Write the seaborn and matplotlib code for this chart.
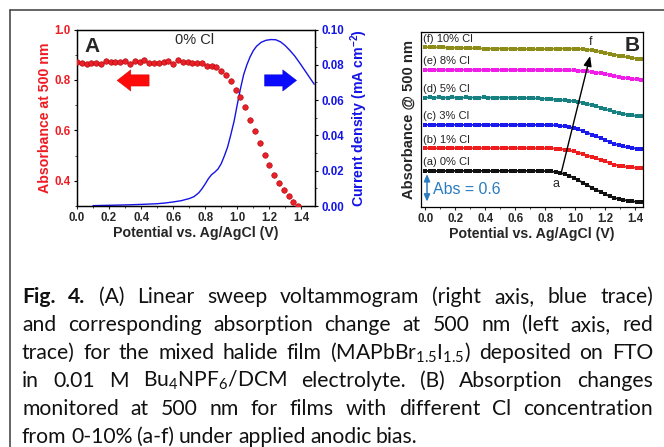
import numpy as np
import matplotlib
matplotlib.use("Agg")
import matplotlib.pyplot as plt
import seaborn as sns
from matplotlib.lines import Line2D
from matplotlib.ticker import MultipleLocator

W, H = 664, 447

# ---------------- data ----------------
# panel A: absorbance at 500 nm (red dots), step 0.03 V
abs_500 = [0.871, 0.868, 0.865, 0.868, 0.867, 0.864, 0.877, 0.871, 0.871, 0.873,
           0.874, 0.862, 0.874, 0.871, 0.878, 0.868, 0.867, 0.867, 0.870, 0.874,
           0.865, 0.880, 0.871, 0.870, 0.868, 0.868, 0.867, 0.857, 0.855, 0.851,
           0.837, 0.819, 0.797, 0.762, 0.733, 0.692, 0.643, 0.596, 0.548, 0.503,
           0.461, 0.424, 0.390, 0.363, 0.339, 0.316, 0.300]
pot_abs = np.round(np.arange(len(abs_500)) * 0.03, 2)

# panel A: linear sweep voltammogram (blue line)
pot_lsv = [0.10, 0.20, 0.30, 0.40, 0.50, 0.55, 0.60, 0.65, 0.70, 0.73, 0.76, 0.78,
           0.80, 0.82, 0.84, 0.86, 0.88, 0.90, 0.92, 0.94, 0.96, 0.98, 1.00, 1.02,
           1.04, 1.06, 1.08, 1.10, 1.12, 1.15, 1.18, 1.21, 1.24, 1.27, 1.30, 1.33,
           1.36, 1.39, 1.42, 1.45, 1.48]
current = [0.0002, 0.0004, 0.0006, 0.0009, 0.0013, 0.0017, 0.0023, 0.0030, 0.0042,
           0.0053, 0.0075, 0.0098, 0.0125, 0.0155, 0.0178, 0.0192, 0.0210, 0.0240,
           0.0285, 0.0335, 0.0405, 0.0480, 0.0575, 0.0665, 0.0745, 0.0800, 0.0845,
           0.0880, 0.0905, 0.0928, 0.0939, 0.0943, 0.0942, 0.0930, 0.0908, 0.0880,
           0.0848, 0.0810, 0.0770, 0.0730, 0.0690]

# panel B: offset absorbance traces, step 0.03 V
trace_a = [0.812, 0.808, 0.810, 0.806, 0.811, 0.809, 0.813, 0.808, 0.810, 0.812,
           0.807, 0.811, 0.809, 0.813, 0.810, 0.808, 0.812, 0.809, 0.811, 0.810,
           0.813, 0.809, 0.811, 0.810, 0.812, 0.810, 0.809,
           0.805, 0.798, 0.785, 0.762, 0.735, 0.700, 0.655, 0.600, 0.545, 0.490,
           0.435, 0.385, 0.335, 0.285, 0.240, 0.205, 0.178, 0.158, 0.142, 0.128,
           0.115, 0.105, 0.098]
trace_b = [1.318, 1.322, 1.320, 1.316, 1.321, 1.324, 1.319, 1.322, 1.326, 1.321,
           1.318, 1.323, 1.320, 1.317, 1.322, 1.319, 1.321, 1.316, 1.320, 1.323,
           1.318, 1.321, 1.319, 1.322, 1.320, 1.317, 1.319, 1.318, 1.316,
           1.312, 1.302, 1.290, 1.272, 1.250, 1.220, 1.188, 1.155, 1.122, 1.090,
           1.057, 1.022, 0.985, 0.953, 0.928, 0.910, 0.898, 0.888, 0.880, 0.872,
           0.868]
trace_c = [1.846, 1.843, 1.847, 1.844, 1.842, 1.846, 1.845, 1.848, 1.843, 1.845,
           1.847, 1.842, 1.846, 1.844, 1.843, 1.847, 1.845, 1.842, 1.846, 1.844,
           1.847, 1.845, 1.843, 1.846, 1.844, 1.845, 1.843, 1.842,
           1.840, 1.832, 1.822, 1.810, 1.795, 1.772, 1.742, 1.705, 1.668, 1.628,
           1.588, 1.546, 1.502, 1.458, 1.420, 1.386, 1.360, 1.340, 1.325, 1.311,
           1.302, 1.296]
trace_d = [2.458, 2.461, 2.457, 2.460, 2.456, 2.459, 2.462, 2.458, 2.455, 2.460,
           2.457, 2.459, 2.456, 2.461, 2.458, 2.455, 2.459, 2.457, 2.454, 2.456,
           2.452, 2.448, 2.450, 2.446, 2.440, 2.437,
           2.434, 2.430, 2.422, 2.413, 2.404, 2.395, 2.386, 2.376, 2.362, 2.342,
           2.316, 2.288, 2.260, 2.230, 2.198, 2.168, 2.140, 2.112, 2.090, 2.072,
           2.056, 2.042, 2.034, 2.030]
trace_e = [3.080, 3.077, 3.079, 3.082, 3.078, 3.076, 3.080, 3.079, 3.083, 3.078,
           3.077, 3.081, 3.079, 3.076, 3.080, 3.082, 3.078, 3.079, 3.077, 3.081,
           3.080, 3.078, 3.076, 3.079, 3.081, 3.078, 3.077, 3.079, 3.076, 3.078,
           3.075, 3.073, 3.070,
           3.066, 3.060, 3.052, 3.044, 3.034, 3.020, 3.004, 2.988, 2.968, 2.946,
           2.924, 2.905, 2.889, 2.875, 2.864, 2.856, 2.852]
trace_f = [3.590, 3.588, 3.586, 3.585, 3.584, 3.580, 3.578, 3.575, 3.572, 3.570,
           3.566, 3.563, 3.560, 3.558, 3.556, 3.555, 3.557, 3.558, 3.556, 3.555,
           3.552, 3.550, 3.548, 3.546, 3.545, 3.544, 3.545, 3.548, 3.552, 3.556,
           3.558, 3.557, 3.556, 3.554, 3.550, 3.546,
           3.535, 3.522, 3.503, 3.482, 3.462, 3.440, 3.420, 3.400, 3.380, 3.362,
           3.346, 3.333, 3.324, 3.318]
pot_b = np.round(np.arange(len(trace_a)) * 0.03, 2)

traces = [trace_a, trace_b, trace_c, trace_d, trace_e, trace_f]
trace_labels = ["(a) 0% Cl", "(b) 1% Cl", "(c) 3% Cl", "(d) 5% Cl", "(e) 8% Cl", "(f) 10% Cl"]
trace_colors = ["#111111", "#ee1c1c", "#1a1aee", "#178080", "#f01ce8", "#8c8c18"]

caption = [
    [("Fig.", "bold"), ("4.", "bold"), "(A)", "Linear", "sweep", "voltammogram", "(right",
     "axis,", "blue", "trace)"],
    "and corresponding absorption change at 500 nm (left axis, red".split(),
    ["trace)", "for", "the", "mixed", "halide", "film",
     r"$\mathregular{(MAPbBr_{1.5}I_{1.5})}$", "deposited", "on", "FTO"],
    ["in", "0.01", "M", r"$\mathregular{Bu_4NPF_6/DCM}$", "electrolyte.", "(B)",
     "Absorption", "changes"],
    "monitored at 500 nm for films with different Cl concentration".split(),
    "from 0-10% (a-f) under applied anodic bias.".split(),
]

# ---------------- style ----------------
sns.set_theme(style="ticks")
plt.rcParams["font.family"] = ["Liberation Sans", "DejaVu Sans"]
plt.rcParams["xtick.direction"] = "out"
plt.rcParams["ytick.direction"] = "out"

fig = plt.figure(figsize=(W / 100, H / 100), dpi=100)
fig.patch.set_facecolor("white")

RED = "#ee1c24"
BLUE = "#1414e6"
TICK_FS = 8.3
LAB_FS = 10.2

# ---------------- panel A ----------------
axA = fig.add_axes([77 / W, 1 - 206 / H, (315 - 77) / W, (206 - 29.5) / H])
ax2 = axA.twinx()

sns.lineplot(x=pot_lsv, y=current, color=BLUE, lw=1.0, ax=ax2)
sns.scatterplot(x=pot_abs, y=abs_500, color="#e8202a", edgecolor="#b00000",
                linewidth=0.4, s=16, ax=axA, zorder=3)
axA.set_zorder(ax2.get_zorder() + 1)
axA.patch.set_visible(False)

axA.set_xlim(0, 1.485)
axA.set_ylim(0.3, 1.0)
ax2.set_ylim(0, 0.1)
axA.xaxis.set_major_locator(MultipleLocator(0.2))
axA.xaxis.set_minor_locator(MultipleLocator(0.1))
axA.yaxis.set_major_locator(MultipleLocator(0.2))
axA.yaxis.set_minor_locator(MultipleLocator(0.1))
ax2.yaxis.set_major_locator(MultipleLocator(0.02))
ax2.yaxis.set_minor_locator(MultipleLocator(0.01))

for ax in (axA, ax2):
    for sp in ax.spines.values():
        sp.set_visible(True)
        sp.set_color("black")
        sp.set_linewidth(0.9)
    ax.tick_params(which="major", length=2.5, width=0.8, pad=2)
    ax.tick_params(which="minor", length=1.5, width=0.6)

axA.tick_params(axis="y", colors="black", labelcolor=RED, labelsize=TICK_FS)
axA.tick_params(axis="x", labelsize=TICK_FS)
ax2.tick_params(axis="y", colors="black", labelcolor=BLUE, labelsize=TICK_FS)
axA.set_yticks([0.4, 0.6, 0.8, 1.0])
axA.set_yticklabels(["0.4", "0.6", "0.8", "1.0"])
for lab in axA.get_xticklabels() + axA.get_yticklabels():
    lab.set_fontweight("bold")
ax2.yaxis.set_major_formatter(plt.FuncFormatter(lambda v, p: f"{v:.2f}"))
for lab in ax2.get_yticklabels():
    lab.set_fontweight("bold")

axA.set_xlabel("Potential vs. Ag/AgCl (V)", fontsize=LAB_FS, fontweight="bold", labelpad=1)
axA.set_ylabel("Absorbance at 500 nm", fontsize=LAB_FS, fontweight="bold", color=RED,
               labelpad=2)
ax2.set_ylabel(r"Current density (mA cm$\mathregular{^{-2}}$)", fontsize=LAB_FS,
               fontweight="bold", color=BLUE, labelpad=3)

axA.text(0.03, 0.96, "A", transform=axA.transAxes, fontsize=15, fontweight="bold",
         va="top", ha="left")
axA.text(0.735, 0.958, "0% Cl", fontsize=10.5, ha="center", va="center")

axA.annotate("", xy=(0.25, 0.798), xytext=(0.45, 0.798),
             arrowprops=dict(arrowstyle="simple,head_length=0.55,head_width=0.85,tail_width=0.45",
                             color="#ff0a0a", ec="#d00000", lw=0.3, mutation_scale=18,
                             shrinkA=0, shrinkB=0))
axA.annotate("", xy=(1.37, 0.798), xytext=(1.17, 0.798),
             arrowprops=dict(arrowstyle="simple,head_length=0.55,head_width=0.85,tail_width=0.45",
                             color="#0a0aff", ec="#0000c0", lw=0.3, mutation_scale=18,
                             shrinkA=0, shrinkB=0))

# ---------------- panel B ----------------
axB = fig.add_axes([421 / W, 1 - 207 / H, (643 - 421) / W, (207 - 32) / H])
for y, lab, col in zip(traces, trace_labels, trace_colors):
    sns.lineplot(x=pot_b, y=y, color=col, lw=1.3, marker="s", markersize=2.6,
                 markeredgewidth=0, ax=axB)
    axB.text(-0.012, y[0] + 0.19, lab, fontsize=8.0, color="#222222",
             ha="left", va="center")

axB.set_xlim(-0.028, 1.45)
axB.set_ylim(0, 3.93)
axB.xaxis.set_major_locator(MultipleLocator(0.2))
axB.xaxis.set_minor_locator(MultipleLocator(0.1))
axB.set_yticks([])
for sp in axB.spines.values():
    sp.set_visible(True)
    sp.set_color("black")
    sp.set_linewidth(0.9)
axB.tick_params(which="major", length=2.5, width=0.8, pad=2, labelsize=TICK_FS)
axB.tick_params(which="minor", length=1.5, width=0.6)
for lab in axB.get_xticklabels():
    lab.set_fontweight("bold")
axB.set_xlabel("Potential vs. Ag/AgCl (V)", fontsize=LAB_FS, fontweight="bold", labelpad=1)
axB.set_ylabel("Absorbance @ 500 nm", fontsize=10.6, fontweight="bold", labelpad=4)

axB.text(0.985, 0.975, "B", transform=axB.transAxes, fontsize=15, fontweight="bold",
         ha="right", va="top")
axB.annotate("", xy=(1.098, 3.39), xytext=(0.905, 0.76),
             arrowprops=dict(arrowstyle="-|>,head_length=0.5,head_width=0.2",
                             color="black", lw=1.0, shrinkA=0, shrinkB=0))
axB.text(1.10, 3.70, "f", fontsize=9, ha="center", va="center")
axB.text(0.868, 0.52, "a", fontsize=9, ha="center", va="center")

SCALE = "#2a7bbf"
axB.annotate("", xy=(0.012, 0.74), xytext=(0.012, 0.12),
             arrowprops=dict(arrowstyle="<|-|>,head_length=0.35,head_width=0.15",
                             color=SCALE, lw=1.1, shrinkA=0, shrinkB=0))
axB.text(0.05, 0.40, "Abs = 0.6", fontsize=11.4, color=SCALE, ha="left", va="center")

# ---------------- frame + caption ----------------
fig.add_artist(Line2D([10 / W, 10 / W], [0, 1 - 10 / H], transform=fig.transFigure,
                      color="#3c3c3c", lw=1.1))
fig.add_artist(Line2D([10 / W, 1], [1 - 10 / H, 1 - 10 / H], transform=fig.transFigure,
                      color="#3c3c3c", lw=1.1))

CAP_FS = 15.2
X0, X1 = 22, 653
fig.canvas.draw()
renderer = fig.canvas.get_renderer()
space_px = CAP_FS * 100 / 72 * 0.22

for i, line in enumerate(caption):
    y_px = 303 + 28 * i
    texts = []
    for word in line:
        wt = "normal"
        if isinstance(word, tuple):
            word, wt = word
        t = fig.text(0, 0, word, fontsize=CAP_FS, fontweight=wt,
                     family=["Lato", "DejaVu Sans"], va="baseline", ha="left",
                     color="#111111")
        texts.append(t)
    widths = [t.get_window_extent(renderer).width for t in texts]
    last = i == len(caption) - 1
    gap = space_px if last else (X1 - X0 - sum(widths)) / (len(texts) - 1)
    x = X0
    for t, w in zip(texts, widths):
        t.set_position((x / W, 1 - y_px / H))
        x += w + gap

fig.savefig("out.png", dpi=100, facecolor="white")
